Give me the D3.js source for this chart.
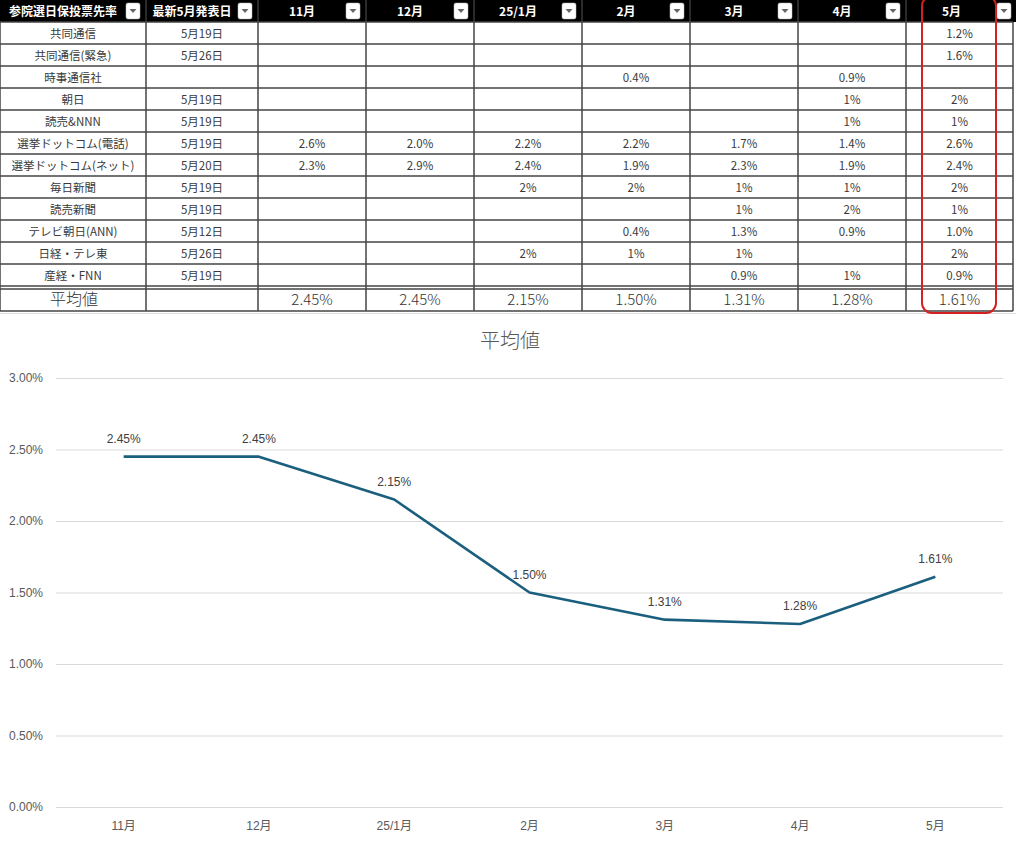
<!DOCTYPE html>
<html>
<head>
<meta charset="utf-8">
<script src="https://cdn.jsdelivr.net/npm/d3@7"></script>
<style>
  body { margin: 0; background: #fff; }
  svg { display: block; }
  .hdr { font-family: "Noto Sans CJK JP", sans-serif; font-weight: 700; font-size: 12px; fill: #fff; }
  .cell { font-family: "Noto Sans CJK JP", serif; font-size: 11.5px; fill: #3a3a3a; font-weight: 400; }
  .avg { font-family: "Noto Sans CJK JP", sans-serif; font-size: 15px; fill: #333; font-weight: 300; }
  .axis text { font-family: "Liberation Sans", "Noto Sans CJK JP", sans-serif; font-size: 12px; fill: #595959; }
  .lbl { font-family: "Liberation Sans", sans-serif; font-size: 12px; fill: #404040; }
</style>
</head>
<body>
<div id="chart"></div>
<script>
// table data
const headers = ['参院選日保投票先率', '最新5月発表日', '11月', '12月', '25/1月', '2月', '3月', '4月', '5月'];
const months = ['11月', '12月', '25/1月', '2月', '3月', '4月', '5月'];
const pollsters = ['共同通信', '共同通信(緊急)', '時事通信社', '朝日', '読売&NNN', '選挙ドットコム(電話)',
  '選挙ドットコム(ネット)', '毎日新聞', '読売新聞', 'テレビ朝日(ANN)', '日経・テレ東', '産経・FNN'];
const releaseDates = ['5月19日', '5月26日', '', '5月19日', '5月19日', '5月19日', '5月20日', '5月19日', '5月19日', '5月12日', '5月26日', '5月19日'];
const pollValues = [
  ['', '', '', '', '', '', '1.2%'],
  ['', '', '', '', '', '', '1.6%'],
  ['', '', '', '0.4%', '', '0.9%', ''],
  ['', '', '', '', '', '1%', '2%'],
  ['', '', '', '', '', '1%', '1%'],
  ['2.6%', '2.0%', '2.2%', '2.2%', '1.7%', '1.4%', '2.6%'],
  ['2.3%', '2.9%', '2.4%', '1.9%', '2.3%', '1.9%', '2.4%'],
  ['', '', '2%', '2%', '1%', '1%', '2%'],
  ['', '', '', '', '1%', '2%', '1%'],
  ['', '', '', '0.4%', '1.3%', '0.9%', '1.0%'],
  ['', '', '2%', '1%', '1%', '', '2%'],
  ['', '', '', '', '0.9%', '1%', '0.9%']
];
// average row / chart series
const avgLabel = '平均値';
const averages = [0.0245, 0.0245, 0.0215, 0.0150, 0.0131, 0.0128, 0.0161];
const yTicks = [0, 0.005, 0.01, 0.015, 0.02, 0.025, 0.03];

document.addEventListener('DOMContentLoaded', function(){
  draw();
});

function draw() {
  const W = 1016, H = 848;
  const svg = d3.select('#chart').append('svg').attr('width', W).attr('height', H);

  // ---- table ----
  const colW = [146, 112, 108, 108, 108, 108, 108, 108, 107];
  const edges = [0];
  colW.forEach(w => edges.push(edges[edges.length - 1] + w));
  const rowH = 22, hdrH = 22;
  const bodyTop = hdrH, bodyBot = hdrH + rowH * pollsters.length; // 286
  const avgTop = bodyBot + 3, avgBot = avgTop + rowH;

  svg.append('rect').attr('x', 0).attr('y', 0).attr('width', W).attr('height', hdrH).attr('fill', '#000');

  headers.forEach((h, i) => {
    const left = edges[i], right = edges[i + 1];
    const bx = i === headers.length - 1 ? 997 : right - 20;
    svg.append('text').attr('class', 'hdr')
      .attr('x', (left + bx) / 2).attr('y', 15.5)
      .attr('text-anchor', 'middle').text(h);
    svg.append('rect').attr('x', bx).attr('y', 3).attr('width', 14).attr('height', 16)
      .attr('rx', 2).attr('fill', '#fff').attr('stroke', '#bbb').attr('stroke-width', 0.5);
    svg.append('path')
      .attr('d', `M${bx + 3.5},${9} L${bx + 10.5},${9} L${bx + 7},${13} Z`)
      .attr('fill', '#666');
    if (i > 0) {
      svg.append('line').attr('x1', left).attr('x2', left).attr('y1', 0).attr('y2', hdrH)
        .attr('stroke', '#555').attr('stroke-width', 1);
    }
  });

  // body rows
  pollsters.forEach((p, r) => {
    const cy = bodyTop + rowH * r + 16;
    const cells = [p, releaseDates[r]].concat(pollValues[r]);
    cells.forEach((c, i) => {
      if (!c) return;
      const xc = i === 0 ? edges[0] + 73 : (edges[i] + edges[i + 1]) / 2;
      svg.append('text').attr('class', 'cell').attr('x', xc).attr('y', cy)
        .attr('text-anchor', 'middle').text(c);
    });
  });

  // average row
  svg.append('text').attr('class', 'avg').attr('x', 74).attr('y', avgTop + 16)
    .attr('text-anchor', 'middle').style('font-size', '16px').text(avgLabel);
  averages.forEach((v, i) => {
    svg.append('text').attr('class', 'avg')
      .attr('x', (edges[i + 2] + edges[i + 3]) / 2).attr('y', avgTop + 16)
      .attr('text-anchor', 'middle').text(d3.format('.2%')(v));
  });

  // grid lines of table
  const hLines = d3.range(pollsters.length + 1).map(i => bodyTop + rowH * i).concat([avgTop, avgBot]);
  svg.selectAll('line.h').data(hLines).enter().append('line')
    .attr('x1', 0).attr('x2', edges[edges.length - 1])
    .attr('y1', d => d).attr('y2', d => d)
    .attr('stroke', '#444').attr('stroke-width', 1.5);
  svg.selectAll('line.v').data(edges).enter().append('line')
    .attr('x1', d => d).attr('x2', d => d)
    .attr('y1', bodyTop).attr('y2', avgBot)
    .attr('stroke', '#444').attr('stroke-width', 1.5);
  svg.append('line').attr('x1', 0).attr('x2', W).attr('y1', avgBot + 2.5).attr('y2', avgBot + 2.5)
    .attr('stroke', '#ddd').attr('stroke-width', 1);

  // red highlight around last column
  svg.append('rect').attr('x', 922).attr('y', -4).attr('width', 74).attr('height', 317)
    .attr('rx', 10).attr('fill', 'none').attr('stroke', '#d42020').attr('stroke-width', 2);

  // ---- chart ----
  const m = { left: 56, right: 1003, top: 378, bottom: 807 };
  const x = d3.scaleBand().domain(months).range([m.left, m.right]);
  const y = d3.scaleLinear().domain([0, 0.03]).range([m.bottom, m.top]);
  const cx = d => x(d) + x.bandwidth() / 2;

  svg.append('text').attr('x', 510).attr('y', 348)
    .attr('text-anchor', 'middle')
    .style('font-family', '"Noto Sans CJK JP", sans-serif').style('font-size', '20px')
    .style('font-weight', 300).style('fill', '#595959')
    .text(avgLabel);

  const yAxis = svg.append('g').attr('class', 'axis').attr('transform', `translate(${m.left},0)`)
    .call(d3.axisLeft(y).tickValues(yTicks).tickFormat(d3.format('.2%'))
      .tickSize(-(m.right - m.left)).tickPadding(13));
  yAxis.select('.domain').remove();
  yAxis.selectAll('.tick line').attr('stroke', '#d9d9d9');

  const xAxis = svg.append('g').attr('class', 'axis').attr('transform', `translate(0,${m.bottom})`)
    .call(d3.axisBottom(x).tickSize(0).tickPadding(14));
  xAxis.select('.domain').remove();

  const line = d3.line().x((d, i) => cx(months[i])).y(d => y(d));
  svg.append('path').datum(averages)
    .attr('d', line).attr('fill', 'none')
    .attr('stroke', '#1b5f7e').attr('stroke-width', 2.6).attr('stroke-linejoin', 'round');

  svg.selectAll('text.lbl').data(averages).enter().append('text')
    .attr('class', 'lbl')
    .attr('x', (d, i) => cx(months[i]))
    .attr('y', d => y(d) - 14)
    .attr('text-anchor', 'middle')
    .text(d => d3.format('.2%')(d));
}
</script>
</body>
</html>
